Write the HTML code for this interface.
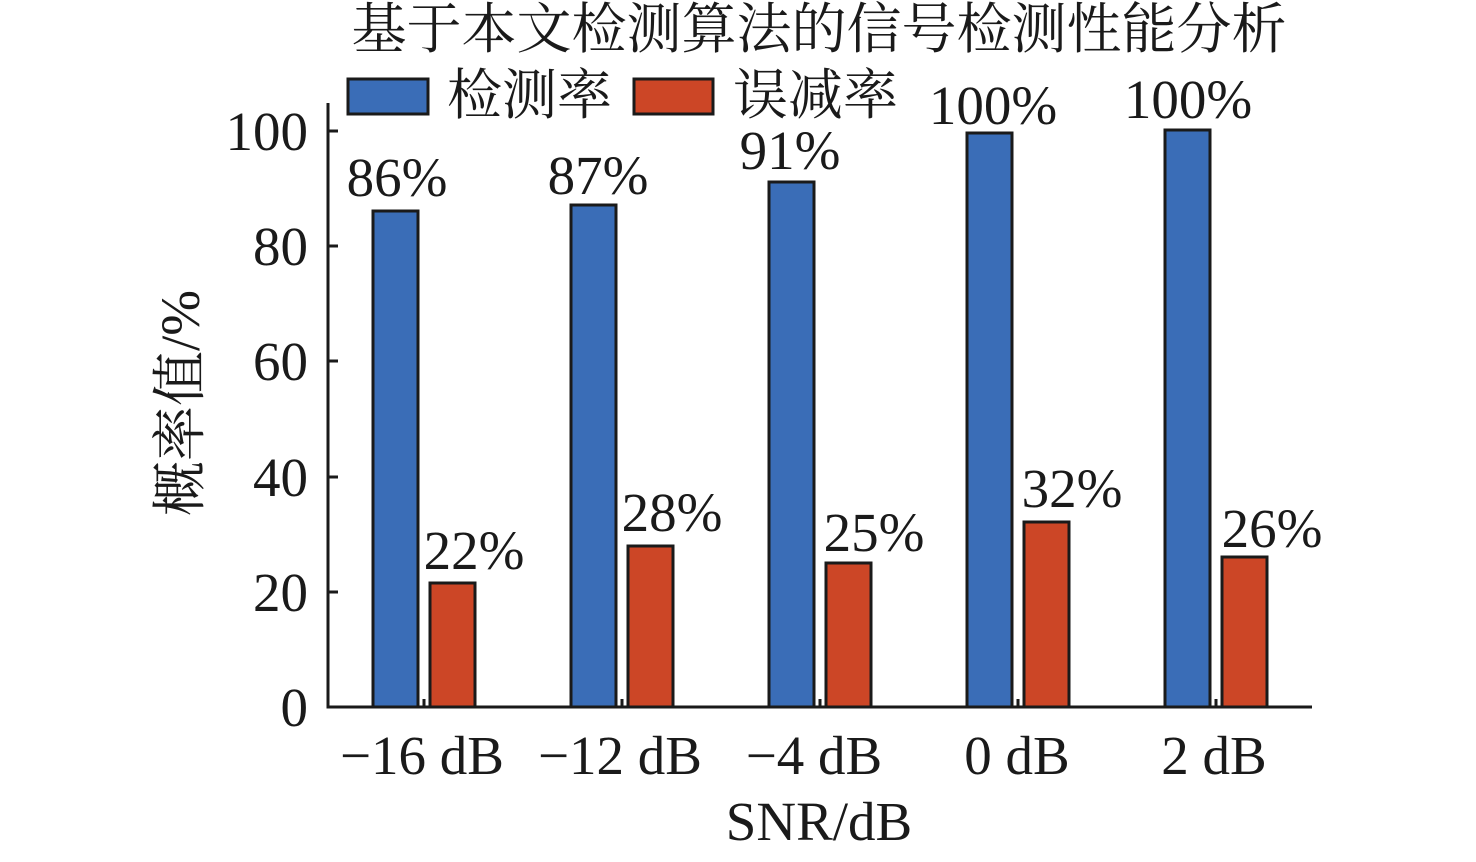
<!DOCTYPE html>
<html><head><meta charset="utf-8"><style>body{margin:0;background:#fff}</style></head><body>
<svg width="1476" height="857" xmlns="http://www.w3.org/2000/svg" font-family="'Liberation Serif','Noto Serif CJK SC',serif" fill="#1a1a1a">
<text x="819" y="48" font-size="55" text-anchor="middle">基于本文检测算法的信号检测性能分析</text>
<rect x="348" y="79" width="80" height="35" fill="#3a6db7" stroke="#1a1a1a" stroke-width="3"/>
<text x="447" y="114" font-size="55">检测率</text>
<rect x="634" y="79" width="79" height="35" fill="#cc4626" stroke="#1a1a1a" stroke-width="3"/>
<text x="733" y="114" font-size="55">误减率</text>
<g stroke="#1a1a1a" stroke-width="3">
<line x1="328" y1="103" x2="328" y2="708"/>
<line x1="326.5" y1="707" x2="1312" y2="707"/>
<line x1="328" y1="592" x2="338" y2="592"/><line x1="328" y1="477" x2="338" y2="477"/>
<line x1="328" y1="361" x2="338" y2="361"/><line x1="328" y1="246" x2="338" y2="246"/>
<line x1="328" y1="131" x2="338" y2="131"/>
<line x1="424" y1="707" x2="424" y2="699"/><line x1="622" y1="707" x2="622" y2="699"/>
<line x1="820" y1="707" x2="820" y2="699"/><line x1="1018" y1="707" x2="1018" y2="699"/>
<line x1="1216" y1="707" x2="1216" y2="699"/>
</g>
<g font-size="55" text-anchor="end">
<text x="308" y="726">0</text><text x="308" y="611">20</text><text x="308" y="496">40</text>
<text x="308" y="380">60</text><text x="308" y="265">80</text><text x="308" y="150">100</text>
</g>
<g stroke="#1a1a1a" stroke-width="3">
<rect x="373" y="211" width="45" height="496" fill="#3a6db7"/>
<rect x="430" y="583" width="45" height="124" fill="#cc4626"/>
<rect x="571" y="205" width="45" height="502" fill="#3a6db7"/>
<rect x="628" y="546" width="45" height="161" fill="#cc4626"/>
<rect x="769" y="182" width="45" height="525" fill="#3a6db7"/>
<rect x="826" y="563" width="45" height="144" fill="#cc4626"/>
<rect x="967" y="133" width="45" height="574" fill="#3a6db7"/>
<rect x="1024" y="522" width="45" height="185" fill="#cc4626"/>
<rect x="1165" y="130" width="45" height="577" fill="#3a6db7"/>
<rect x="1222" y="557" width="45" height="150" fill="#cc4626"/>
</g>
<g font-size="55" text-anchor="middle">
<text x="397" y="196">86%</text><text x="474" y="569">22%</text>
<text x="598" y="194">87%</text><text x="672" y="531">28%</text>
<text x="790" y="169">91%</text><text x="874" y="551">25%</text>
<text x="993" y="124">100%</text><text x="1072" y="507">32%</text>
<text x="1188" y="118">100%</text><text x="1272" y="547">26%</text>
<text x="422" y="774">−16 dB</text><text x="620" y="774">−12 dB</text>
<text x="814" y="774">−4 dB</text><text x="1017" y="774">0 dB</text>
<text x="1214" y="774">2 dB</text>
<text x="819" y="840">SNR/dB</text>
</g>
<text transform="translate(199,403) rotate(-90)" font-size="55" text-anchor="middle">概率值/%</text>
</svg>
</body></html>
